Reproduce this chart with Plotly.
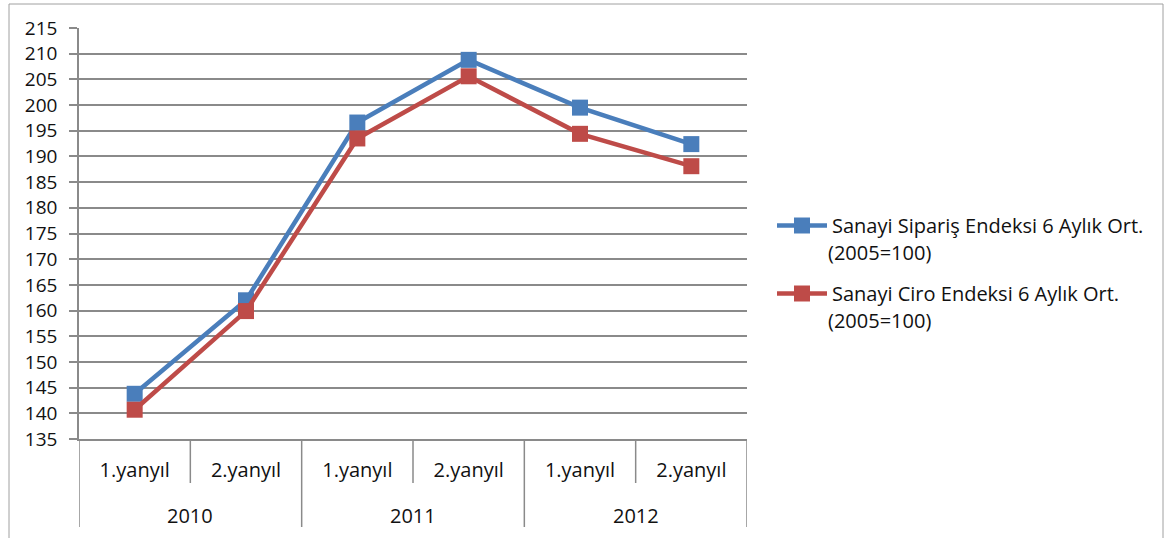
import plotly.graph_objects as go

halves = ["1.yanyıl", "2.yanyıl", "1.yanyıl", "2.yanyıl", "1.yanyıl", "2.yanyıl"]
years = ["2010", "2011", "2012"]
siparis = [143.8, 162.0, 196.6, 208.8, 199.5, 192.4]
ciro = [140.7, 159.9, 193.5, 205.6, 194.4, 188.1]
name_siparis = "Sanayi Sipariş Endeksi 6 Aylık Ort."
name_ciro = "Sanayi Ciro Endeksi 6 Aylık Ort."
base_note = "(2005=100)"
yticks = list(range(135, 216, 5))

FONT = "Open Sans"
FS = 19
FS2 = 20
TXT = "#111111"
GRID = "#8a8a8a"
BLUE = "#4a7ebb"
RED = "#be4b48"

xs = list(range(len(halves)))

fig = go.Figure()
fig.add_trace(go.Scatter(x=xs, y=siparis, mode="lines+markers", name=name_siparis,
                         line=dict(color=BLUE, width=4.5),
                         marker=dict(symbol="square", size=16, color=BLUE),
                         legendgroup="a"))
fig.add_trace(go.Scatter(x=xs, y=ciro, mode="lines+markers", name=name_ciro,
                         line=dict(color=RED, width=4.5),
                         marker=dict(symbol="square", size=16, color=RED),
                         legendgroup="b"))

W, H = 1173, 538
L, R, T, B = 79, 426, 28, 99
pw, ph = W - L - R, H - T - B

def px_to_py(py):
    return (H - B - py) / ph

def px_to_px(px):
    return (px - L) / pw

shapes = []
# chart outer border
shapes.append(dict(type="rect", xref="paper", yref="paper",
                   x0=px_to_px(9), x1=px_to_px(1163), y0=px_to_py(560), y1=px_to_py(4),
                   line=dict(color="#a0a0a0", width=1), fillcolor="rgba(0,0,0,0)", layer="below"))
# boundaries between half-years (short) and years (long)
n_per_year = len(halves) // len(years)
for b in range(len(halves) + 1):
    xb = b - 0.5
    long_div = (b % n_per_year == 0)
    shapes.append(dict(type="line", xref="x", yref="paper", x0=xb, x1=xb,
                       y0=0, y1=px_to_py(527 if long_div else 483),
                       line=dict(color=GRID, width=1.5)))

annotations = []
for i, yr in enumerate(years):
    annotations.append(dict(x=i * n_per_year + (n_per_year - 1) / 2, xref="x",
                            y=px_to_py(515), yref="paper", text=yr, showarrow=False,
                            font=dict(family=FONT, size=FS2, color=TXT),
                            xanchor="center", yanchor="middle"))
# second line of legend labels
for py in (252, 320):
    annotations.append(dict(x=px_to_px(826), xref="paper", y=px_to_py(py), yref="paper",
                            text=base_note, showarrow=False,
                            font=dict(family=FONT, size=FS2, color=TXT),
                            xanchor="left", yanchor="middle"))

fig.update_layout(
    width=W, height=H,
    margin=dict(l=L, r=R, t=T, b=B, autoexpand=False),
    paper_bgcolor="white", plot_bgcolor="white",
    font=dict(family=FONT, size=FS, color=TXT),
    showlegend=True,
    legend=dict(x=px_to_px(772), y=px_to_py(206), xanchor="left", yanchor="top",
                xref="paper", yref="paper", font=dict(family=FONT, size=FS2, color=TXT),
                itemwidth=50, tracegroupgap=39, bgcolor="rgba(0,0,0,0)"),
    xaxis=dict(range=[-0.5, len(halves) - 0.5], tickmode="array", tickvals=xs,
               ticktext=halves, ticks="", showgrid=False, zeroline=False,
               showline=True, linecolor=GRID, linewidth=1.5,
               tickfont=dict(family=FONT, size=FS2, color=TXT), ticklabelstandoff=12),
    yaxis=dict(range=[135, 215], tickmode="array", tickvals=yticks,
               ticktext=[str(v) for v in yticks], ticks="outside", ticklen=8,
               tickcolor=GRID, tickwidth=1.5, showgrid=True, gridcolor=GRID, gridwidth=1.5,
               zeroline=False, showline=True, linecolor=GRID, linewidth=1.5,
               tickfont=dict(family=FONT, size=FS, color=TXT), ticklabelstandoff=8),
    shapes=shapes, annotations=annotations,
)

fig.write_html("out.html")
